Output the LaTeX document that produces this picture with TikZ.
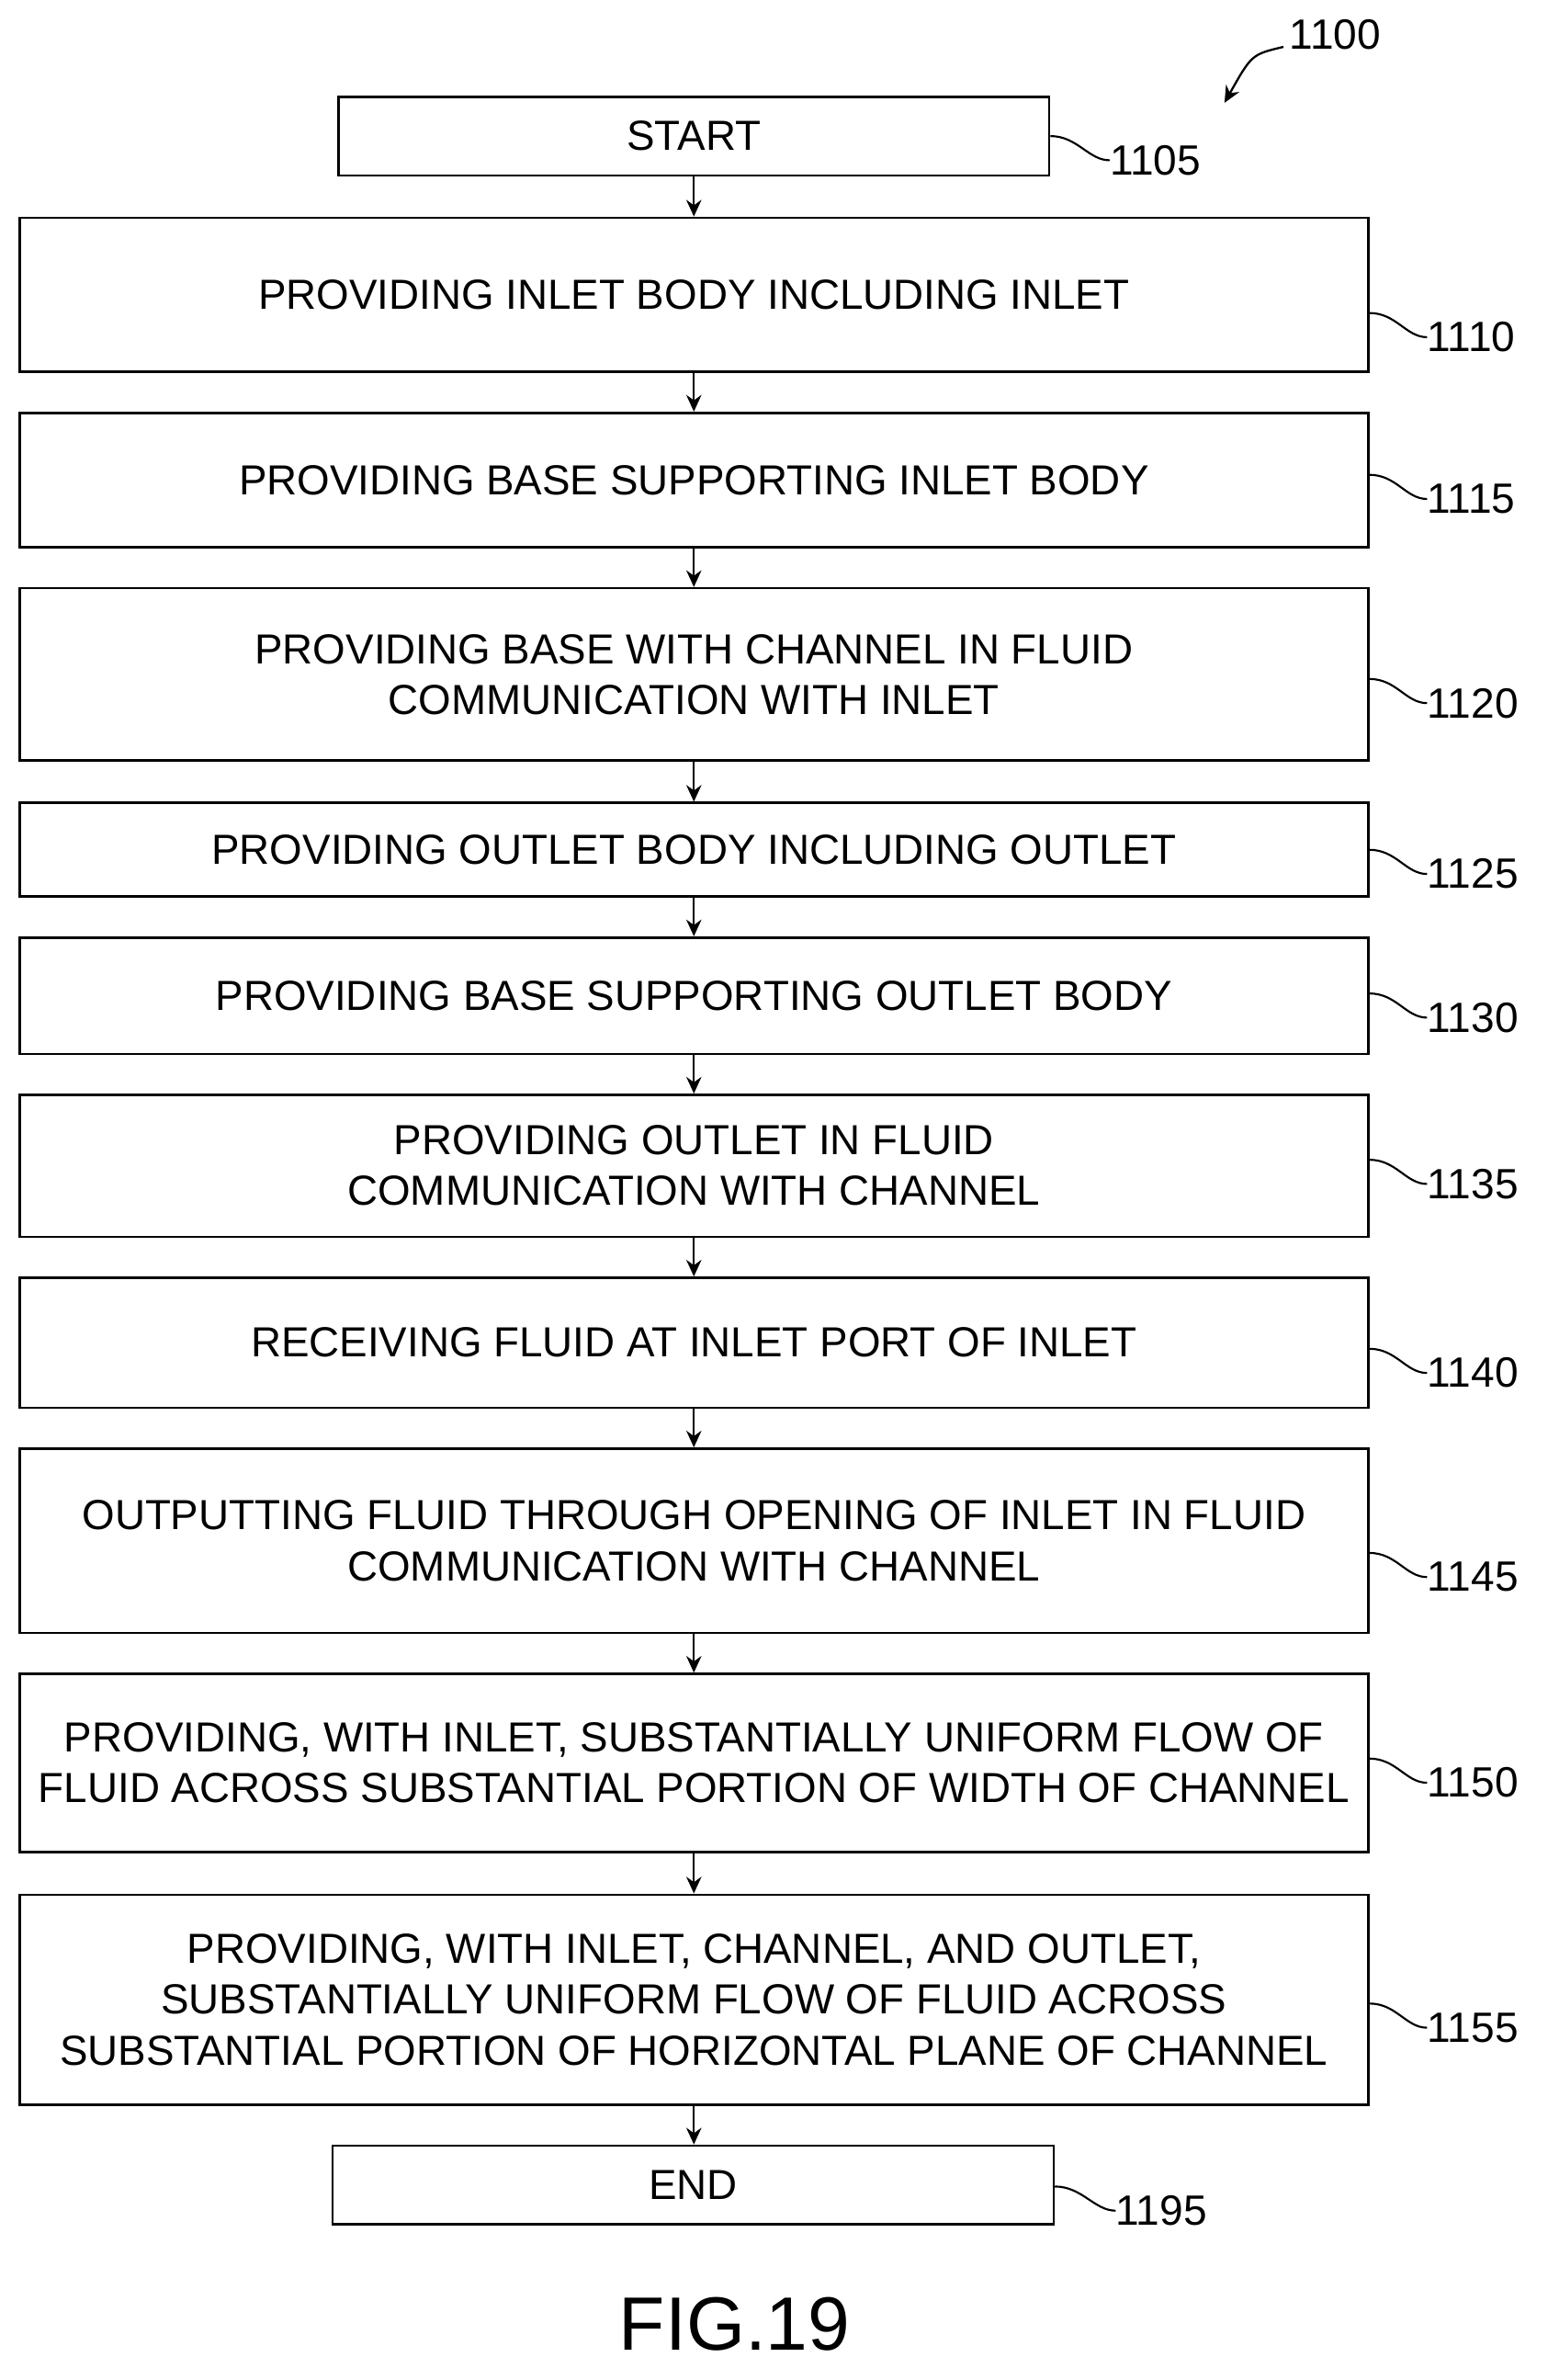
\documentclass[tikz,border=0pt]{standalone}
\usepackage{fontspec}
\setmainfont{Liberation Sans}
\usetikzlibrary{arrows.meta}
\begin{document}
\begin{tikzpicture}[x=1pt,y=-1pt,
 box/.style={draw,line width=1.6pt,inner sep=0pt,align=center,font=\fontsize{27.8}{33.5}\selectfont},
 lab/.style={anchor=west,inner sep=0pt,font=\fontsize{28}{33}\selectfont},
 arr/.style={line width=1.4pt,-{Stealth[length=11pt,width=10pt]}},
 lead/.style={line width=1.3pt}]
\useasboundingbox (0,0) rectangle (1024,1574);
\newcommand{\bx}[6]{\node[box,minimum width=#3-#2,minimum height=#5-#4] (#1) at ({(#2+#3)/2},{(#4+#5)/2}) {#6};}
\bx{s}{224}{694}{64}{116}{START}
\bx{a}{13}{905}{144}{246}{PROVIDING INLET BODY INCLUDING INLET}
\bx{b}{13}{905}{273}{362}{PROVIDING BASE SUPPORTING INLET BODY}
\bx{c}{13}{905}{389}{503}{PROVIDING BASE WITH CHANNEL IN FLUID\\COMMUNICATION WITH INLET}
\bx{d}{13}{905}{531}{593}{PROVIDING OUTLET BODY INCLUDING OUTLET}
\bx{e}{13}{905}{620}{697}{PROVIDING BASE SUPPORTING OUTLET BODY}
\bx{f}{13}{905}{724}{818}{PROVIDING OUTLET IN FLUID\\COMMUNICATION WITH CHANNEL}
\bx{g}{13}{905}{845}{931}{RECEIVING FLUID AT INLET PORT OF INLET}
\bx{h}{13}{905}{958}{1080}{OUTPUTTING FLUID THROUGH OPENING OF INLET IN FLUID\\COMMUNICATION WITH CHANNEL}
\bx{i}{13}{905}{1107}{1225}{PROVIDING, WITH INLET, SUBSTANTIALLY UNIFORM FLOW OF\\FLUID ACROSS SUBSTANTIAL PORTION OF WIDTH OF CHANNEL}
\bx{j}{13}{905}{1253}{1392}{PROVIDING, WITH INLET, CHANNEL, AND OUTLET,\\SUBSTANTIALLY UNIFORM FLOW OF FLUID ACROSS\\SUBSTANTIAL PORTION OF HORIZONTAL PLANE OF CHANNEL}
\bx{k}{220}{697}{1419}{1471}{END}
\foreach \p/\q in {s/a,a/b,b/c,c/d,d/e,e/f,f/g,g/h,h/i,i/j,j/k}
  \draw[arr] (\p.south -| 459,0) -- (\q.north -| 459,0);
\newcommand{\lb}[5]{\node[lab] (#1) at (#3,#4) {#5};
  \draw[lead] (#2.east |- 0,{#4-16}) .. controls +(18,0) and +(-14,0) .. (#1.west);}
\lb{ls}{s}{734}{106}{1105}
\lb{la}{a}{944}{223}{1110}
\lb{lb}{b}{944}{330}{1115}
\lb{lc}{c}{944}{465}{1120}
\lb{ld}{d}{944}{578}{1125}
\lb{le}{e}{944}{673}{1130}
\lb{lf}{f}{944}{783}{1135}
\lb{lg}{g}{944}{908}{1140}
\lb{lh}{h}{944}{1043}{1145}
\lb{li}{i}{944}{1179}{1150}
\lb{lj}{j}{944}{1341}{1155}
\lb{lk}{k}{738}{1462}{1195}
\node[lab] (n) at (853,23) {1100};
\coordinate (t) at (810,68);
\draw[line width=1.4pt,-{Stealth[length=11pt,width=10pt]}] (n.west) ++(-4,8) .. controls (828,36) .. (t);
\node[inner sep=0pt,font=\fontsize{50}{56}\selectfont] (fig) at (486,1537) {FIG.19};
\end{tikzpicture}
\end{document}
